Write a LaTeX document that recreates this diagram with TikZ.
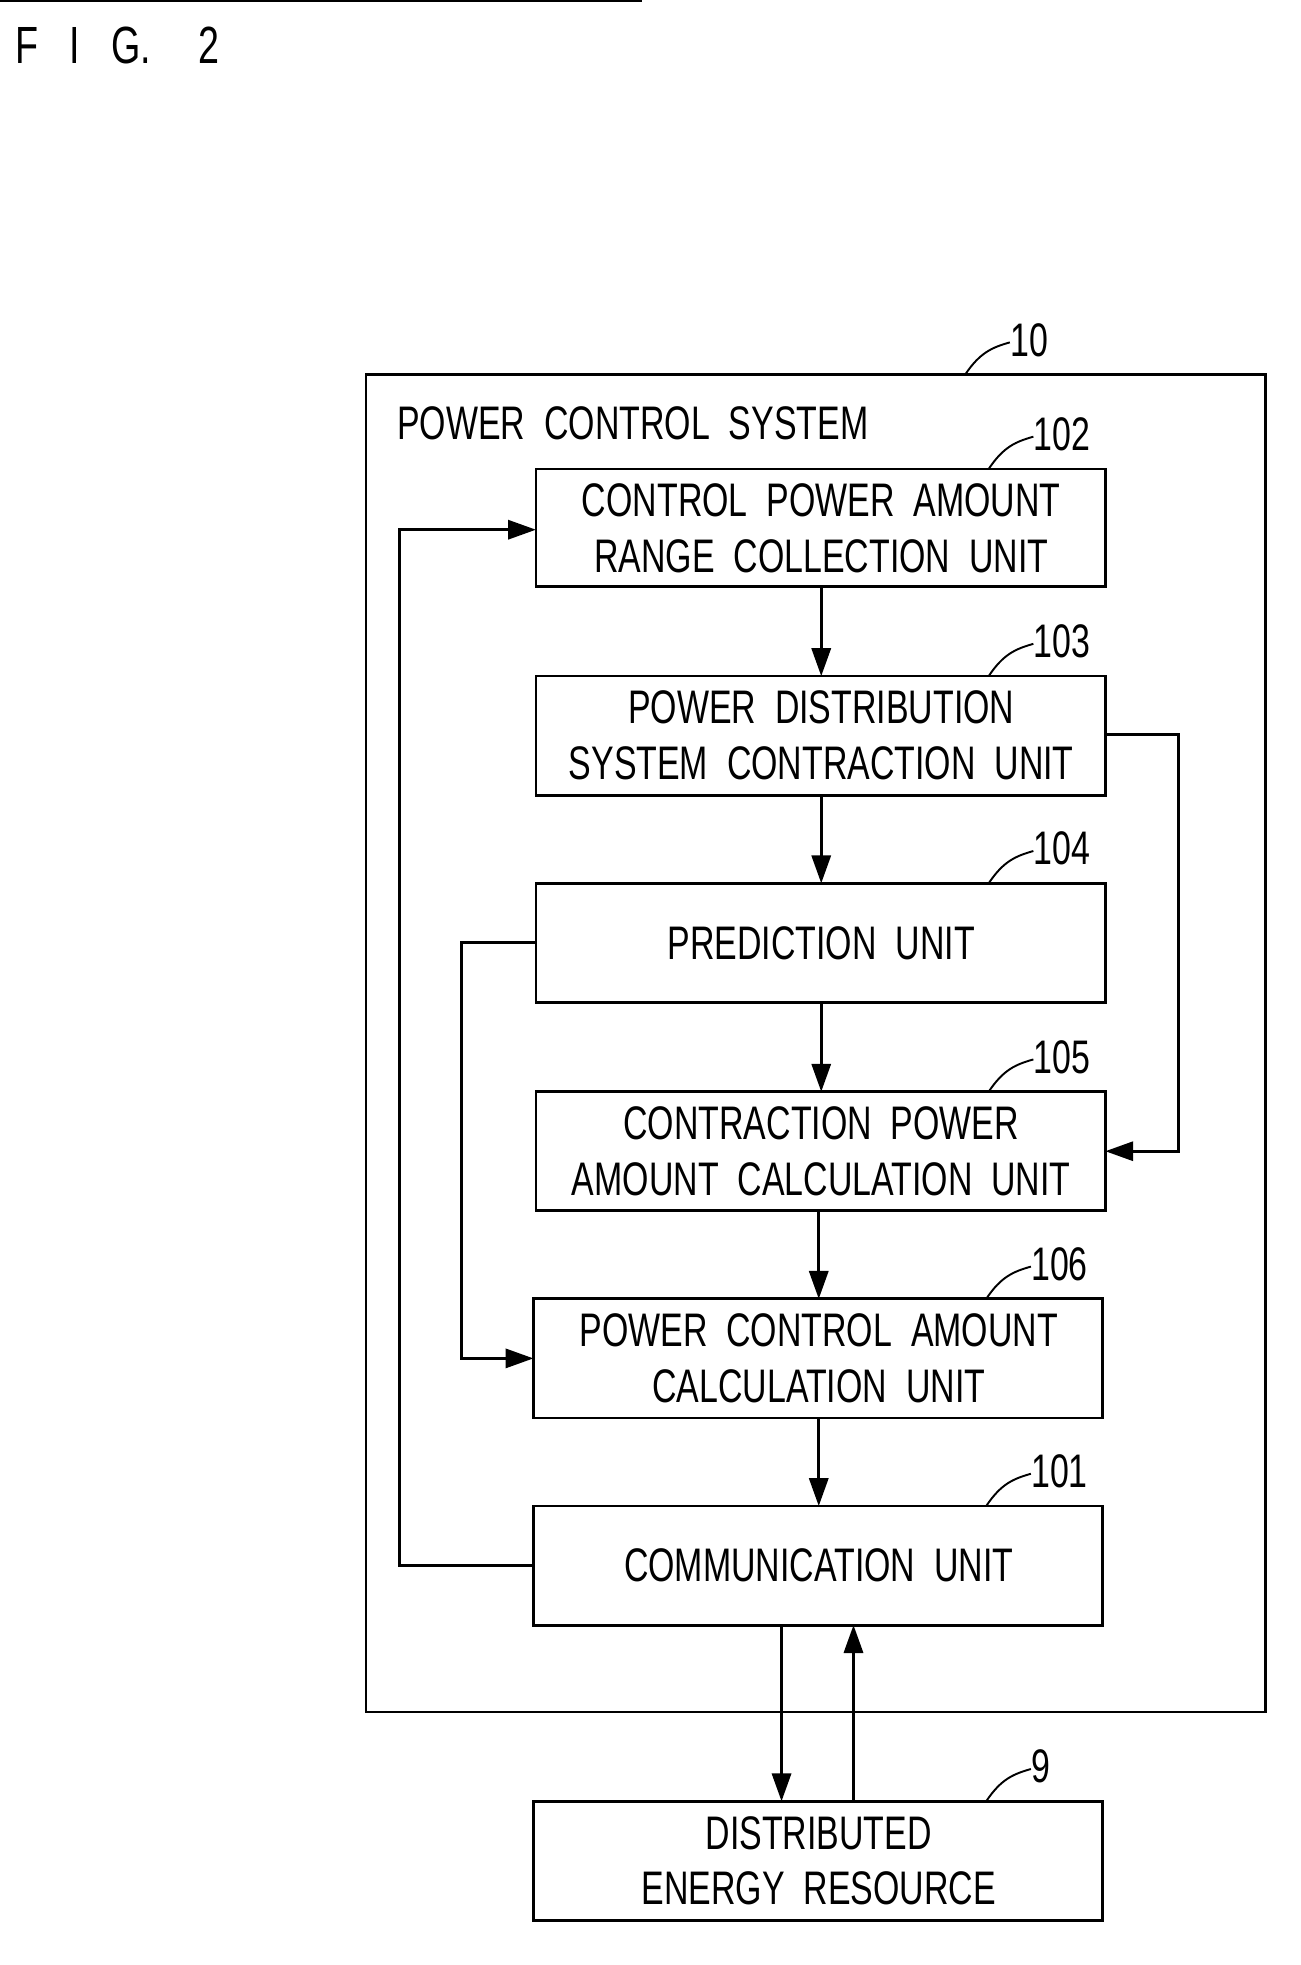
\documentclass[tikz,border=0pt]{standalone}
\usepackage{fontspec}
\setmainfont{Liberation Sans}[FakeStretch=0.72]
\usetikzlibrary{arrows.meta}
\begin{document}
\begin{tikzpicture}[x=0.025cm,y=-0.025cm,
  box/.style={draw,line width=1.6pt,inner sep=0pt},
  txt/.style={font=\fontsize{27}{32}\selectfont,align=center,inner sep=0pt},
  lbl/.style={font=\fontsize{27}{32}\selectfont,inner sep=0pt,anchor=west},
  ar/.style={line width=1.6pt,-{Triangle[length=16pt,width=11pt]}},
  ln/.style={line width=1.6pt},
  lead/.style={line width=1.1pt}]
\useasboundingbox (0,0) rectangle (1048,1584);
\node[anchor=west,inner sep=0pt,font=\fontsize{30}{34}\selectfont] (fig) at (12,37) {F\hspace{0.6em}I\hspace{0.6em}G.\hspace{0.9em}2};
\draw[box] (295,302) rectangle (1020,1380);
\node[lbl] (t10) at (320,341) {POWER\ \ CONTROL\ \ SYSTEM};
\node[box,minimum width=459\pgflinewidth] at (0,0) {}; 
\coordinate (dummy) at (0,0);
% boxes
\path (432,378) coordinate (a1) (891,473) coordinate (a2);
\draw[box] (a1) rectangle (a2);
\node[txt] (b102) at (662,426) {CONTROL\ \ POWER\ \ AMOUNT\\RANGE\ \ COLLECTION\ \ UNIT};
\draw[box] (432,545) rectangle (891,641);
\node[txt] (b103) at (662,593) {POWER\ \ DISTRIBUTION\\SYSTEM\ \ CONTRACTION\ \ UNIT};
\draw[box] (432,712) rectangle (891,808);
\node[txt] (b104) at (662,760) {PREDICTION\ \ UNIT};
\draw[box] (432,880) rectangle (891,976);
\node[txt] (b105) at (662,928) {CONTRACTION\ \ POWER\\AMOUNT\ \ CALCULATION\ \ UNIT};
\draw[box] (430,1047) rectangle (889,1143);
\node[txt] (b106) at (660,1095) {POWER\ \ CONTROL\ \ AMOUNT\\CALCULATION\ \ UNIT};
\draw[box] (430,1214) rectangle (889,1310);
\node[txt] (b101) at (660,1262) {COMMUNICATION\ \ UNIT};
\draw[box] (430,1452) rectangle (889,1548);
\node[txt] (b9) at (660,1500) {DISTRIBUTED\\ENERGY\ \ RESOURCE};
% vertical arrows
\draw[ar] (662,473) -- (662,545);
\draw[ar] (662,641) -- (662,712);
\draw[ar] (662,808) -- (662,880);
\draw[ar] (660,976) -- (660,1047);
\draw[ar] (660,1143) -- (660,1214);
\draw[ar] (630,1310) -- (630,1452);
\draw[ar] (688,1452) -- (688,1310);
% loops
\draw[ar] (430,1262) -- (322,1262) -- (322,427) -- (432,427);
\draw[ar] (432,760) -- (372,760) -- (372,1095) -- (430,1095);
\draw[ar] (891,592) -- (950,592) -- (950,928) -- (891,928);
% leaders
\foreach \x/\y/\t in {778/302/10,797/378/102,797/545/103,797/712/104,797/880/105,795/1047/106,795/1214/101,795/1452/9}{
  \draw[lead] (\x,\y) .. controls (\x+12,\y-18) and (\x+22,\y-22) .. (\x+36,\y-26);
  \node[lbl] at (\x+36,\y-28) {\t};
}
\end{tikzpicture}
\end{document}
